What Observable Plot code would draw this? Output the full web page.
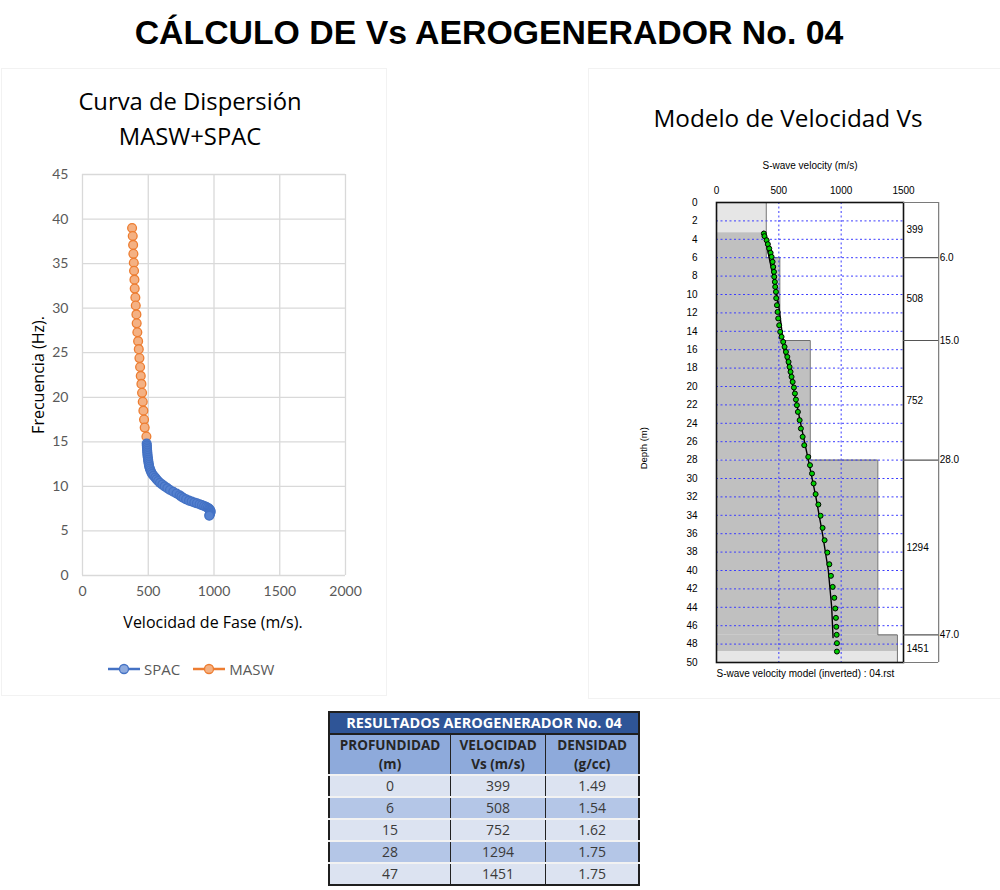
<!DOCTYPE html>
<html><head><meta charset="utf-8">
<script src="https://cdn.jsdelivr.net/npm/d3@7"></script>
<script src="https://cdn.jsdelivr.net/npm/@observablehq/plot@0.6"></script>
<style>
body{margin:0;background:#fff;}
#page{position:relative;width:1000px;height:890px;overflow:hidden;background:#fff;}
.abs{position:absolute;}
#mainTitle{left:0;width:978px;top:13px;text-align:center;font:bold 33.8px "Liberation Sans",Arial,sans-serif;color:#000;}
.ptitle{font-family:"Open Sans",sans-serif;color:#000;text-align:center;line-height:35px;white-space:nowrap;}
.panel{border:1px solid #f2f2f2;}
#tbl{left:328px;top:711px;width:312px;border-collapse:collapse;font-family:"Open Sans",sans-serif;color:#3a3a3a;border:2px solid #1f1f1f;}
#tbl td{padding:0;text-align:center;}
#tbl tr.tt td{background:#2F5597;color:#fff;font-weight:bold;font-size:14.5px;line-height:20px;height:20px;border:2px solid #1f1f1f;}
#tbl tr.hh td{background:#8EAADB;color:#262626;font-weight:bold;font-size:13.5px;line-height:19px;height:39px;border-left:1.5px solid #222;border-right:1.5px solid #222;}
#tbl td.d{font-size:14px;height:20px;line-height:20px;border-left:1.5px solid #222;border-right:1.5px solid #222;border-top:2px solid #f2f2f2;}
#tbl tr.r0 td{background:#DCE3F1;}
#tbl tr.r1 td{background:#B4C6E7;}
</style></head><body><div id="page"></div>
<script>
// ---------- Data: dispersion curve (left chart) ----------
const spacFreq = [14.8,14.6,14.4,14.2,14.0,13.8,13.6,13.4,13.2,13.0,12.8,12.6,12.4,12.2,12.0,11.8,11.6,11.4,11.2,11.0,10.8,10.6,10.4,10.2,10.0,9.8,9.6,9.4,9.2,9.0,8.85,8.7,8.55,8.4,8.3,8.2,8.1,8.0,7.9,7.8,7.7,7.6,7.5,7.4,7.3,7.2,7.1,7.0,6.9,6.8,6.7];
const spacVel  = [488,489,490,491,492,493,494,495,497,499,501,503,505,508,512,517,523,530,540,553,563,575,589,607,625,645,665,690,715,738,752,768,788,810,830,850,870,890,908,925,940,952,962,968,972,974,973,971,968,966,964];
const maswFreq = [39.0,38.1,37.1,36.1,35.1,34.2,33.2,32.2,31.2,30.3,29.3,28.3,27.3,26.3,25.4,24.4,23.4,22.4,21.5,20.5,19.5,18.5,17.5,16.6,15.6];
const maswVel  = [377,382,385,387,390,392,395,397,402,405,410,412,417,423,428,433,438,443,448,453,458,463,468,473,486];
const seriesNames = ["SPAC","MASW"];
const leftVelTicks = [0,500,1000,1500,2000];

// ---------- Data: Vs model (right chart) ----------
const layerTop = [0,6,15,28,47];
const layerBottom = [6,15,28,47,50];
const layerVs = [399,508,752,1294,1451];
const layerDensity = [1.49,1.54,1.62,1.75,1.75];
const resolvedDepth = [3.3,48.8];
const boundaryLabels = ["6.0","15.0","28.0","47.0"];
const obsDepth = [3.37,3.66,4.1,4.53,5.0,5.47,5.91,6.45,7.0,7.54,8.08,8.63,9.17,9.71,10.4,11.16,11.9,12.6,13.34,14.06,14.6,15.15,15.69,16.24,16.78,17.33,17.87,18.41,18.95,19.5,20.11,20.76,21.42,22.03,22.76,23.66,24.57,25.47,26.38,27.65,28.55,29.46,30.54,31.7,32.83,34.05,35.37,36.71,38.05,39.32,40.58,41.78,42.97,44.13,45.15,46.12,46.99,47.9,48.81];
const obsVel   = [380,385,402,412,423,434,442,450,455,461,463,468,471,477,479,485,490,495,503,511,522,535,546,557,568,578,586,594,602,611,621,629,637,645,653,667,677,691,704,736,750,766,779,795,817,835,851,867,889,905,918,932,945,953,958,961,964,966,966];
const fitDepth = [10.8,10.0,9.0,7.9,6.9,5.9,5.0,4.3,3.7,3.3,3.15,3.3,4.2,5.2,6.1,7.0,7.9,8.8,9.6,10.5,11.8,13.5,16,20,24,28,32,36,40,44,47.3];
const fitVel   = [490,480,472,465,456,445,430,415,400,384,377,380,395,410,424,438,452,466,478,490,505,520,541,614,675,737,797,850,897,924,935];
const rightVelTicks = [0,500,1000,1500];
const sideBoxVel = 1782;

// ---------- Data: results table ----------
const tableTitle = "RESULTADOS AEROGENERADOR No. 04";
const tableHeaders = [["PROFUNDIDAD","(m)"],["VELOCIDAD","Vs (m/s)"],["DENSIDAD","(g/cc)"]];

const page = document.getElementById("page");
function add(html, cls, style){const d=document.createElement("div");d.className="abs "+(cls||"");if(style)d.style.cssText=style;d.innerHTML=html;page.appendChild(d);return d;}

// panels
add("", "panel", "left:1px;top:68px;width:384px;height:626px;");
add("", "panel", "left:588px;top:68px;width:420px;height:629px;");

add("CÁLCULO DE Vs AEROGENERADOR No. 04", "", "").id="mainTitle";
add("Curva de Dispersión<br>MASW+SPAC", "ptitle", "left:40px;width:300px;top:84px;font-size:23.8px;");
add("Modelo de Velocidad Vs", "ptitle", "left:638px;width:300px;top:100px;font-size:24.3px;");

// ---------- Left chart ----------
const spac = spacFreq.map((f,i)=>({f, v:spacVel[i]}));
const masw = maswFreq.map((f,i)=>({f, v:maswVel[i]}));
const left = Plot.plot({
  width: 380, height: 470,
  marginLeft: 82, marginRight: 35, marginTop: 24, marginBottom: 45,
  x: {domain:[0,2000], ticks:leftVelTicks, tickFormat:d=>String(d), label:null},
  y: {domain:[0,45], ticks: d3.range(0,46,5), label:null},
  style: {fontFamily:"Lato, 'Open Sans', sans-serif", fontSize:"14px", color:"#595959", background:"transparent", overflow:"visible"},
  marks: [
    Plot.gridX({stroke:"#d9d9d9", strokeOpacity:1, strokeWidth:1.3}),
    Plot.gridY({stroke:"#d9d9d9", strokeOpacity:1, strokeWidth:1.3}),
    Plot.axisX({tickSize:0, tickPadding:11, fontSize:14, tickFormat:d=>String(d)}),
    Plot.axisY({tickSize:0, tickPadding:14, fontSize:14}),
    Plot.line(masw, {x:"v", y:"f", stroke:"#ED7D31", strokeWidth:2}),
    Plot.dot(masw, {x:"v", y:"f", r:4.4, fill:"#F4B183", stroke:"#ED7D31", strokeWidth:1.3}),
    Plot.line(spac, {x:"v", y:"f", stroke:"#4472C4", strokeWidth:2}),
    Plot.dot(spac, {x:"v", y:"f", r:4.4, fill:"#5581cf", stroke:"#4472C4", strokeWidth:1.3})
  ]
});
const lw = add("", "", "left:0px;top:150px;");
lw.appendChild(left);
add("Frecuencia (Hz).", "", "left:38px;top:375px;transform:translate(-50%,-50%) rotate(-90deg);font-family:'Open Sans',sans-serif;font-size:16px;color:#000;white-space:nowrap;");
add("Velocidad de Fase (m/s).", "", "left:213px;top:622px;transform:translate(-50%,-50%);font-family:'Open Sans',sans-serif;font-size:16px;color:#000;white-space:nowrap;");

// legend
const legColors = {SPAC:["#4472C4","#8fabde"], MASW:["#ED7D31","#F4B183"]};
let legHtml = "";
seriesNames.forEach((n)=>{
  const [s,f] = legColors[n];
  legHtml += `<span style="display:inline-flex;align-items:center;margin-right:12px;"><svg width="34" height="14"><line x1="1" y1="7" x2="33" y2="7" stroke="${s}" stroke-width="2.5"/><circle cx="17" cy="7" r="4.5" fill="${f}" stroke="${s}" stroke-width="1.3"/></svg><span style="margin-left:3px">${n}</span></span>`;
});
add(legHtml, "", "left:107px;top:659px;font-family:'Open Sans',sans-serif;font-size:15px;color:#595959;white-space:nowrap;");

// ---------- Right chart ----------
const layers = layerTop.map((t,i)=>({top:t, bottom:layerBottom[i], vs:layerVs[i]}));
const darkLayers = layers.map(l=>({top:Math.max(l.top,resolvedDepth[0]), bottom:Math.min(l.bottom,resolvedDepth[1]), vs:l.vs})).filter(l=>l.bottom>l.top);
const outline = layers.flatMap(l=>[{v:l.vs,d:l.top},{v:l.vs,d:l.bottom}]);
const obs = obsDepth.map((d,i)=>({d, v:obsVel[i]}));
const fit = fitDepth.map((d,i)=>({d, v:fitVel[i]}));
const right = Plot.plot({
  width: 370, height: 560,
  marginLeft: 86, marginRight: 97, marginTop: 62, marginBottom: 38,
  x: {domain:[0,1500], label:null},
  y: {domain:[0,50], reverse:true, label:null},
  style: {fontFamily:"'Liberation Sans', Arial, sans-serif", fontSize:"10px", color:"#000", background:"transparent", overflow:"visible"},
  marks: [
    Plot.rect(layers, {x1:0, x2:"vs", y1:"top", y2:"bottom", fill:"#e6e6e6"}),
    Plot.rect(darkLayers, {x1:0, x2:"vs", y1:"top", y2:"bottom", fill:"#c0c0c0"}),
    Plot.line(outline, {x:"v", y:"d", stroke:"#6e6e6e", strokeWidth:1}),
    Plot.ruleX([500,1000], {stroke:"#3c3cff", strokeWidth:1, strokeDasharray:"2,2.5"}),
    Plot.ruleY(d3.range(2,50,2), {stroke:"#3c3cff", strokeWidth:1, strokeDasharray:"2,2.5"}),
    Plot.frame({stroke:"#111", strokeWidth:1.6}),
    Plot.line(fit, {x:"v", y:"d", stroke:"#000", strokeWidth:1.4}),
    Plot.dot(obs, {x:"v", y:"d", r:2.5, fill:"#00cc00", stroke:"#000", strokeWidth:1}),
    // side box
    Plot.ruleX([sideBoxVel], {y1:0, y2:50, stroke:"#7a7a7a", strokeWidth:1.2, clip:false}),
    Plot.ruleY([0,50], {x1:1500, x2:sideBoxVel, stroke:"#7a7a7a", strokeWidth:1.2}),
    Plot.ruleY(layerTop.slice(1), {x1:1500, x2:sideBoxVel, stroke:"#555", strokeWidth:1.2}),
    Plot.text(layerTop.slice(1), {x:sideBoxVel, y:d=>d, text:(d,i)=>boundaryLabels[i], textAnchor:"start", dx:1, fontSize:10}),
    Plot.text(layers, {x:1500, y:d=>(d.top+d.bottom)/2, text:d=>String(d.vs), textAnchor:"start", dx:3, fontSize:10}),
    Plot.axisX({anchor:"top", ticks:rightVelTicks, tickFormat:d=>String(d), tickSize:0, tickPadding:9, label:null}),
    Plot.axisY({ticks:d3.range(0,51,2), tickSize:0, tickPadding:19, label:null}),
    Plot.text(["S-wave velocity (m/s)"], {frameAnchor:"top", dy:-41, fontSize:10}),
    Plot.text(["Depth (m)"], {frameAnchor:"left", y:29, rotate:-90, dx:-73, fontSize:9.5}),
    Plot.text(["S-wave velocity model (inverted) : 04.rst"], {frameAnchor:"bottom-left", dy:14, textAnchor:"start", fontSize:10})
  ]
});
const rw = add("", "", "left:630px;top:140px;");
rw.appendChild(right);

// ---------- Table ----------
const tbl = document.createElement("table");
tbl.id = "tbl"; tbl.className = "abs";
let th = `<tr class="tt"><td colspan="3">${tableTitle}</td></tr><tr class="hh">`;
const colW = [122,96,94];
tableHeaders.forEach((h,i)=>{ th += `<td style="width:${colW[i]}px">${h[0]}<br>${h[1]}</td>`; });
th += `</tr>`;
layerTop.forEach((t,i)=>{
  th += `<tr class="r${i%2}"><td class="d">${t}</td><td class="d">${layerVs[i]}</td><td class="d">${layerDensity[i].toFixed(2)}</td></tr>`;
});
tbl.innerHTML = th;
page.appendChild(tbl);
</script>
</body></html>
